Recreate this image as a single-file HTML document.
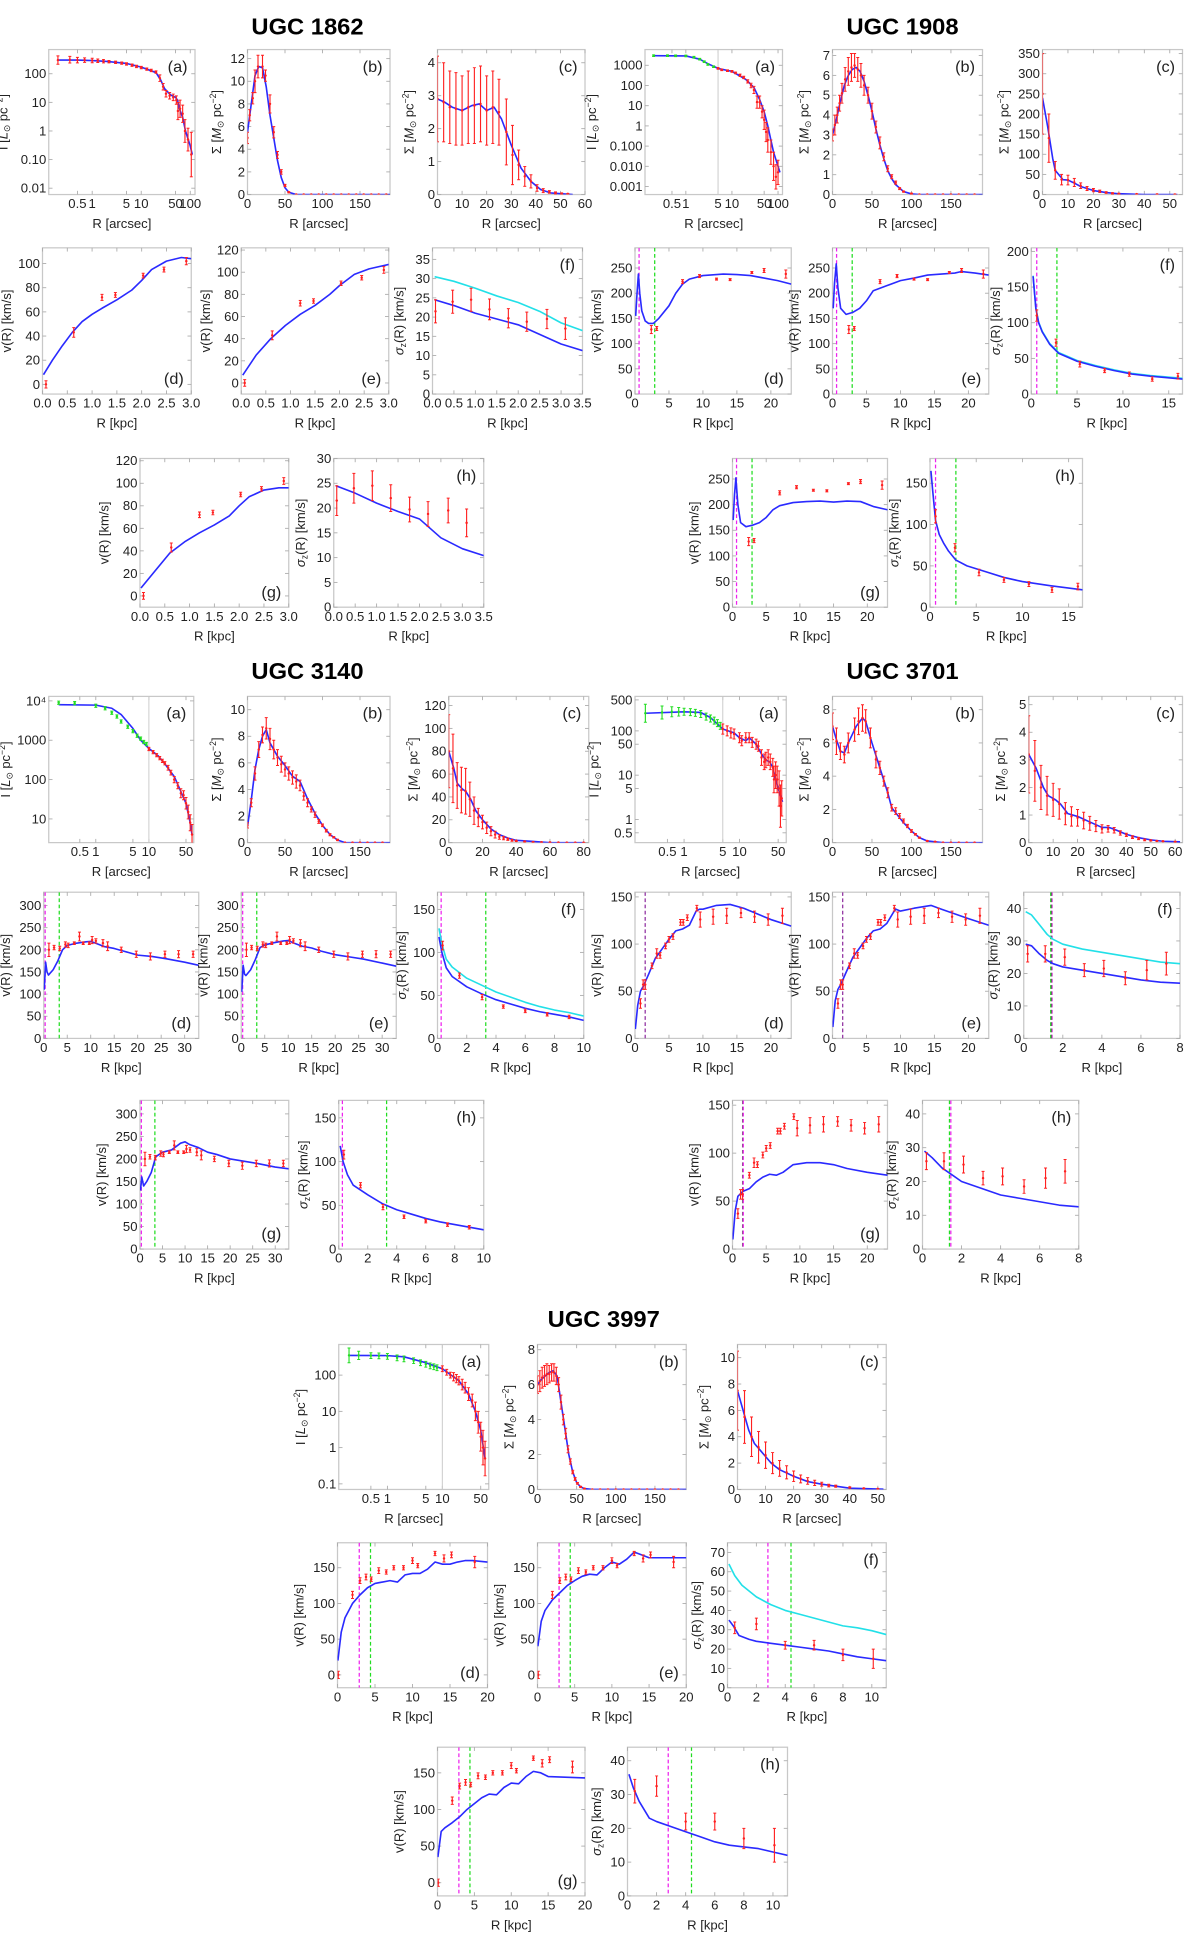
<!DOCTYPE html>
<html><head><meta charset="utf-8"><style>
html,body{margin:0;padding:0;background:#fff;}
svg{display:block;font-family:"Liberation Sans",sans-serif;}
</style></head><body>
<svg id="fig" width="1200" height="1943" viewBox="0 0 960 1568" preserveAspectRatio="none" xmlns="http://www.w3.org/2000/svg">
<text x="246" y="28" font-size="19" font-weight="bold" text-anchor="middle">UGC 1862</text>
<text x="722" y="28" font-size="19" font-weight="bold" text-anchor="middle">UGC 1908</text>
<text x="246" y="548" font-size="19" font-weight="bold" text-anchor="middle">UGC 3140</text>
<text x="722" y="548" font-size="19" font-weight="bold" text-anchor="middle">UGC 3701</text>
<text x="483" y="1071" font-size="19" font-weight="bold" text-anchor="middle">UGC 3997</text>
</svg>
<script>
// ===== DATA =====
// UGC 1862
const c1862a=[[0.2,300],[0.5,300],[1,290],[2,270],[5,230],[10,170],[20,110],[25,60],[30,30],[40,18],[50,15],[55,12],[60,6],[70,3],[80,1],[100,0.3],[110,0.15]];
const p1862a=[[0.2,300,1.4],[0.35,310,1.3],[0.5,300,1.25],[0.7,300,1.2],[1,290,1.2],[1.3,285,1.15],[1.7,275,1.15],[2.2,265,1.1],[3,250,1.1],[4,235,1.1],[5,220,1.1],[6.5,200,1.1],[8,180,1.1],[10,165,1.1],[13,145,1.1],[16,130,1.1],[20,115,1.1],[24,70,1.3],[28,35,1.3],[32,20,1.3],[38,17,1.3],[45,15,1.3],[52,12,1.4],[56,5,2],[62,6,2],[70,4,2],[78,1,2.5],[90,0.5,2.5],[105,0.15,6]];
const c1862b=[[0,5.5],[5,8],[10,10.5],[15,11.3],[20,11.2],[25,9.5],[30,7],[35,5],[40,3],[45,1.5],[50,0.6],[55,0.2],[65,0],[190,0]];
const p1862b=[[0,5,0.5],[3,7,0.5],[7,8.5,0.5],[10,10,1],[14,11.3,1],[20,11.3,1],[24,10.5,0.5],[30,8,0.8],[35,5.5,0.5],[40,3.5,0.3],[45,2,0.2],[50,0.8,0.1],[55,0.2,0.05],[65,0,0],[75,0,0],[85,0,0],[95,0,0],[105,0,0],[115,0,0],[125,0,0],[135,0,0],[145,0,0],[155,0,0],[165,0,0],[175,0,0],[185,0,0]];
const c1862c=[[0,2.9],[3,2.8],[6,2.65],[10,2.55],[14,2.7],[17,2.75],[20,2.55],[23,2.65],[26,2.3],[30,1.5],[34,0.8],[38,0.4],[42,0.15],[46,0.05],[55,0]];
const p1862c=[[0,2.9,1.3],[2.5,2.8,1.2],[5,2.65,1.1],[7.5,2.6,1.1],[10,2.55,1.05],[12.5,2.65,1.1],[15,2.7,1.15],[17.5,2.75,1.15],[20,2.55,1.05],[22.5,2.65,1.1],[25,2.5,1.0],[28,1.9,1.0],[30.5,1.2,0.9],[33,0.9,0.45],[35.5,0.55,0.3],[38,0.4,0.2],[40.5,0.2,0.1],[43,0.12,0.06],[45.5,0.08,0.04],[48,0.05,0.03],[50.5,0.03,0.02],[53,0.02,0.01]];
const c1862d=[[0.02,8],[0.2,20],[0.4,32],[0.6,43],[0.8,52],[1.0,58],[1.2,63],[1.5,70],[1.8,78],[2.0,86],[2.2,95],[2.5,102],[2.8,105],[3.0,104]];
const p1862v=[[0.07,0,3],[0.63,43,4],[1.2,72,2.5],[1.47,74,2],[2.03,90,2],[2.45,95,2],[2.9,102,3]];
const c1862e=[[0.03,7],[0.3,25],[0.6,40],[0.9,52],[1.2,62],[1.5,70],[1.8,80],[2.0,88],[2.3,98],[2.6,103],[3.0,107]];
const c1862f=[[0.05,24.5],[0.5,23],[1,21],[1.5,19.5],[2,18],[2.5,15.5],[3,13],[3.5,11.3]];
const k1862f=[[0.05,30.5],[0.5,29.3],[1,27.5],[1.5,25.5],[2,23.8],[2.5,21.5],[3,18.5],[3.5,16.5]];
const p1862s=[[0.07,21.5,3],[0.47,24,3],[0.9,24.5,3],[1.33,22,2.7],[1.77,19.7,2.5],[2.2,18.8,2.5],[2.67,19.5,2.5],[3.1,17,2.8]];
const c1862g=[[0.02,7],[0.3,22],[0.6,38],[0.9,48],[1.2,56],[1.5,63],[1.8,71],[2.0,80],[2.2,88],[2.5,94],[2.8,96],[3.0,96]];
const c1862h=[[0.05,24.5],[0.5,23],[1,21],[1.5,19.3],[2,17.8],[2.5,14],[3,11.8],[3.5,10.4]];
// UGC 1908
const c1908a=[[0.2,3000],[1,2900],[2,2000],[3,1200],[5,700],[10,500],[20,200],[30,80],[40,20],[50,5],[60,1],[70,0.2],[80,0.05],[100,0.01],[110,0.005]];
const g1908a=[[0.2,3000,1.1],[0.4,3000,1.1],[0.6,2950,1.1],[1,2900,1.1],[1.5,2500,1.1],[2,2000,1.1],[2.5,1500,1.1],[3,1100,1.1],[4,850,1.1]];
const p1908a=[[5,700,1.1],[6,600,1.1],[8,540,1.1],[10,500,1.1],[12,420,1.1],[15,320,1.15],[18,250,1.15],[22,160,1.2],[26,100,1.3],[30,60,1.5],[35,15,2],[40,15,2],[45,5,2],[50,2,3],[55,0.5,3],[60,0.2,4],[70,0.05,4],[80,0.01,5],[90,0.003,4],[100,0.005,4]];
const c1908b=[[0,3],[5,3.8],[10,4.7],[15,5.5],[20,6],[25,6.3],[30,6.4],[35,6.2],[40,5.7],[45,5],[50,4.2],[55,3.3],[60,2.5],[65,1.8],[70,1.2],[75,0.8],[80,0.5],[90,0.15],[100,0.03],[110,0],[190,0]];
const p1908b=[[0,3,0.3],[3,3.5,0.5],[6,4,0.4],[9,4.6,0.4],[12,5.1,0.5],[16,5.8,0.6],[20,6.2,0.7],[24,6.4,0.7],[28,6.5,0.6],[32,6.3,0.6],[36,6,0.6],[40,5.5,0.5],[45,5,0.4],[50,4.2,0.4],[55,3.4,0.3],[60,2.6,0.3],[65,1.9,0.2],[70,1.3,0.15],[75,0.9,0.1],[80,0.6,0.08],[85,0.3,0.05],[90,0.15,0.03],[100,0.05,0.02],[110,0,0],[120,0,0],[130,0,0],[140,0,0],[150,0,0],[160,0,0],[170,0,0],[180,0,0]];
const c1908c=[[0,240],[2,170],[4,90],[5,60],[7,45],[8,37],[10,36],[12,30],[15,20],[20,10],[25,5],[30,2],[40,0],[53,0]];
const p1908c=[[0,250,100],[2.5,140,60],[5,60,22],[7.5,37,13],[10,36,12],[12.5,30,10],[15,22,7],[17.5,15,5],[20,11,4],[22.5,8,3],[25,5,2],[27.5,3,1.5],[30,2,1],[37,1,0.5],[45,0.5,0.3],[52,0.3,0.2]];
const c1908d=[[0.1,155],[0.3,200],[0.5,238],[0.7,200],[1,165],[1.5,145],[2,140],[2.7,140],[3.5,150],[5,175],[6,200],[7,218],[8,228],[10,235],[13,238],[15,237],[17,235],[19,230],[21,225],[23,218]];
const p1908v=[[2.4,128,8],[3.2,130,4],[7,223,4],[9.5,234,3],[12,228,2],[14,227,2],[17.2,241,2],[19,245,4],[22.2,238,8]];
const c1908e=[[0.1,170],[0.3,220],[0.55,258],[0.8,210],[1.2,170],[2,158],[3,162],[4,170],[5,185],[6,205],[8,215],[10,225],[12,230],[14,236],[16,238],[18,240],[19,243],[21,240],[23,236]];
const c1908f=[[0.2,165],[0.5,120],[0.8,100],[1.2,87],[2,70],[3,57],[5,46],[7,39],[9,33],[11,28],[13,25],[16.5,21]];
const k1908f=[[0.2,166],[0.5,121],[0.8,101],[1.2,88],[2,71],[3,58],[5,47],[7,40],[9,34],[11,29],[13,26],[16.5,22]];
const p1908s=[[0.6,110,8],[2.7,72,5],[5.3,42,4],[8,33,3],[10.7,28,3],[13.2,21,3],[16,25,4]];
const c1908g=[[0.1,170],[0.3,220],[0.5,252],[0.8,200],[1.2,165],[2,157],[3,160],[4,165],[5,175],[6,190],[7,198],[9,204],[11,206],[13,207],[15,205],[17,207],[19,206],[21,196],[23,190]];
const c1908h=[[0.1,165],[0.3,140],[0.6,105],[1,88],[1.5,77],[2,68],[2.8,57],[4,50],[6,43],[8,36],[10,31],[13,26],[16.5,21]];
// UGC 3140
const c3140a=[[0.2,8000],[1,7800],[2,6500],[3,4500],[5,2000],[7,1000],[10,620],[15,400],[20,250],[30,120],[40,50],[50,25],[60,8],[65,4]];
const g3140a=[[0.2,9000,1.1],[0.4,8800,1.1],[1,7500,1.1],[1.5,6500,1.1],[2,5000,1.1],[2.5,4000,1.1],[3,3000,1.1],[4,2200,1.1],[5,1700,1.1],[6,1300,1.1],[7,1100,1.1],[8,900,1.1],[9,800,1.1]];
const p3140a=[[10,600,1.1],[12,500,1.1],[14,420,1.1],[16,350,1.1],[18,300,1.1],[20,260,1.1],[23,200,1.15],[26,150,1.15],[30,100,1.2],[35,70,1.2],[40,45,1.3],[45,40,1.3],[50,25,1.4],[55,15,1.5],[60,8,1.6],[65,4,1.8]];
const c3140b=[[0,1.2],[5,3.2],[10,5.5],[15,7],[20,8],[25,8.5],[30,7.5],[40,6.5],[50,5.8],[60,5],[70,4.6],[80,3.3],[90,2.2],[100,1.3],[110,0.6],[120,0.2],[130,0],[190,0]];
const p3140b=[[0,1.3,0.2],[5,3,0.3],[10,5.2,0.5],[15,7,0.6],[20,8.1,0.6],[25,8.6,0.8],[30,7.8,0.8],[35,7,0.7],[40,6.4,0.6],[45,5.9,0.6],[50,5.5,0.5],[55,5.2,0.5],[60,4.9,0.5],[65,4.6,0.5],[70,4.3,0.4],[75,3.5,0.3],[80,3,0.3],[85,2.5,0.2],[90,2.1,0.2],[95,1.6,0.15],[100,1.3,0.1],[105,0.9,0.1],[110,0.6,0.08],[115,0.4,0.05],[120,0.2,0.05],[130,0,0],[140,0,0],[150,0,0],[160,0,0],[170,0,0],[180,0,0]];
const c3140c=[[0,80],[3,65],[5,52],[8,47],[10,45],[13,38],[16,28],[20,20],[25,12],[30,7],[35,4],[40,2],[50,1],[60,0],[80,0]];
const p3140c=[[0,80,32],[2.5,65,30],[5,50,20],[7.5,46,20],[10,45,20],[12.5,38,15],[15,28,12],[17.5,22,8],[20,18,6],[22.5,13,5],[25,10,4],[27.5,7,3],[30,5,2],[32.5,4,1.5],[35,3,1],[37.5,2,0.8],[40,1.5,0.5],[45,1,0.3],[50,0.5,0.2],[55,0.3,0.1],[60,0.2,0],[65,0.1,0],[70,0,0],[75,0,0],[80,0,0]];
const c3140d=[[0.1,110],[0.4,172],[0.7,150],[1,143],[2,155],[3,175],[4,200],[5,210],[7,215],[9,218],[10,219],[11,215],[13,207],[15,203],[17,197],[20,188],[23,185],[26,180],[30,172],[33,165]];
const p3140v=[[1.1,200,15],[2.2,205,5],[3.4,203,5],[4.6,212,6],[5.2,210,5],[6.5,215,3],[7.6,230,10],[8.4,215,3],[9.7,215,3],[10.3,222,8],[11.1,220,5],[12.6,215,8],[13.6,208,10],[16.5,200,6],[19.7,190,7],[22.7,185,8],[25.8,190,7],[28.7,190,8],[31.8,190,7]];
const c3140e=[[0.1,105],[0.4,165],[0.7,145],[1,142],[2,155],[3,178],[4,205],[5,211],[7,216],[9,220],[10,221],[11,216],[13,208],[15,204],[17,197],[20,189],[23,184],[26,179],[30,170],[33,163]];
const c3140f=[[0.1,118],[0.3,100],[0.6,82],[1,72],[2,60],[3,52],[4,45],[5,40],[6,35],[7,31],[8,28],[9,25],[10,21]];
const k3140f=[[0.1,128],[0.3,110],[0.6,92],[1,83],[2,70],[3,62],[4,54],[5,48],[6,42],[7,37],[8,33],[9,30],[10,26]];
const p3140s=[[0.35,108,5],[1.5,73,3],[3.05,48,3],[4.5,37,2],[6,32,2],[7.5,28,2],[9,25,2]];
const c3140g=[[0.1,130],[0.4,160],[0.8,140],[1.5,150],[2.5,170],[3.5,205],[5,215],[7,220],[9,235],[10,238],[11,232],[13,225],[15,215],[17,210],[20,200],[23,195],[26,190],[30,182],[33,178]];
const c3140h=[[0.1,118],[0.3,100],[0.6,85],[1,73],[2,62],[3,52],[4,45],[5,40],[6,35],[7,31],[8,28],[9,25],[10,22]];
// UGC 3701
const c3701a=[[0.2,250],[1,270],[2,260],[3,200],[5,110],[8,90],[10,70],[13,60],[15,70],[20,50],[25,30],[30,22],[35,20],[40,15],[45,8],[50,5],[60,2.5]];
const g3701a=[[0.2,250,1.6],[0.4,260,1.4],[0.6,270,1.3],[0.8,270,1.25],[1,270,1.2],[1.3,265,1.2],[1.6,255,1.2],[2,240,1.2],[2.5,210,1.2],[3,190,1.2],[3.5,170,1.2],[4,150,1.2],[4.5,130,1.2]];
const p3701a=[[5,110,1.3],[6,100,1.3],[7,90,1.3],[8,85,1.3],[10,70,1.3],[11,60,1.3],[13,70,1.3],[15,70,1.3],[17,55,1.3],[20,50,1.3],[22,45,1.3],[25,25,1.5],[28,20,1.5],[30,22,1.5],[33,25,1.5],[36,20,1.5],[40,15,1.6],[42,8,2],[45,10,2],[48,8,2],[52,5,2.5],[55,2,3],[58,3,2.5]];
const c3701b=[[0,7],[5,6.2],[10,5.5],[15,5.4],[20,6],[30,7],[38,7.5],[42,7.3],[50,6],[60,4.5],[70,3],[75,2.1],[80,1.8],[90,1.2],[100,0.7],[110,0.3],[120,0.1],[140,0],[190,0]];
const p3701b=[[0,7,0.8],[5,6.1,0.8],[10,5.5,0.5],[15,5.3,0.5],[20,6,0.6],[28,6.8,0.7],[33,7.3,0.8],[38,7.5,0.8],[42,7.3,0.7],[48,6.3,0.6],[55,5,0.5],[60,4.5,0.4],[65,3.7,0.3],[70,3,0.3],[75,2.1,0.2],[80,1.9,0.2],[85,1.6,0.15],[90,1.3,0.12],[95,1,0.1],[100,0.7,0.08],[105,0.5,0.05],[110,0.3,0.04],[120,0.1,0.02],[130,0.05,0],[140,0,0],[150,0,0],[160,0,0],[170,0,0],[180,0,0]];
const c3701c=[[0,3.2],[3,2.7],[6,2],[8,1.7],[11,1.55],[13,1.4],[16,1.05],[20,0.95],[25,0.75],[30,0.55],[33,0.55],[36,0.45],[40,0.3],[45,0.18],[50,0.1],[55,0.05],[62,0.03]];
const p3701c=[[0,3.2,1.4],[2.5,2.6,1.1],[5,2,0.8],[7.5,1.7,0.7],[10,1.55,0.6],[12.5,1.4,0.55],[15,1.05,0.4],[17.5,0.95,0.35],[20,0.9,0.3],[22.5,0.8,0.3],[25,0.7,0.25],[27.5,0.6,0.2],[30,0.5,0.15],[32.5,0.5,0.12],[35,0.45,0.1],[37.5,0.35,0.08],[40,0.28,0.06],[42.5,0.2,0.05],[45,0.15,0.04],[47.5,0.1,0.03],[50,0.08,0.02],[52.5,0.06,0.01],[55,0.05,0],[60,0.03,0]];
const c3701d=[[0.05,10],[0.4,35],[0.8,50],[1.2,55],[2,68],[3,85],[4,95],[5,105],[6,114],[7,116],[8,120],[9,135],[9.5,137],[10,137],[12,141],[14,142],[16,138],[18,132],[20,126],[23,119]];
const p3701v=[[0.8,37,5],[1.2,57,5],[1.5,57,5],[2.5,77,3],[3.2,90,5],[3.7,88,3],[4.5,98,3],[5,105,3],[5.6,108,3],[6.7,123,3],[7.1,123,3],[7.7,128,3],[9.1,138,3],[9.6,126,8],[11.5,129,8],[13.5,130,8],[15.6,133,5],[17.6,129,6],[19.6,126,6],[21.7,130,8]];
const c3701e=[[0.05,12],[0.4,40],[0.8,52],[1.2,57],[2,70],[3,86],[4,96],[5,106],[6,114],[7,116],[8,122],[9,134],[9.3,137],[10,135],[12,138],[14.5,141],[16,137],[18,132],[20,127],[23,120]];
const c3701f=[[0.1,29],[0.4,28.5],[0.8,26],[1.2,24],[1.5,23],[2,22],[3,21],[4,20],[5,19],[6,18],[7,17.3],[8,17]];
const k3701f=[[0.1,39],[0.4,38],[0.8,35],[1.2,32],[1.5,30.5],[2,29],[3,27.5],[4,26.5],[5,25.5],[6,24.5],[7,23.5],[8,23]];
const p3701s=[[0.2,26,2.5],[1.1,26,2.5],[2.1,25,2.5],[3.1,21,2],[4.1,21.5,2.5],[5.2,18.5,2],[6.3,21,3],[7.3,23,3.5]];
const c3701g=[[0.05,10],[0.4,40],[0.8,55],[1.5,60],[2.5,63],[3.5,70],[4.5,75],[5.5,78],[6.5,77],[7.5,80],[9,88],[11,90],[13,90],[15,88],[17,84],[20,80],[23,77]];
const c3701h=[[0.1,29],[0.5,27],[1,24],[1.5,22],[2,20],[3,18],[4,16],[5,15],[6,14],[7,13],[8,12.5]];
// UGC 3997
const c3997a=[[0.2,350],[1,345],[2,320],[5,220],[10,150],[20,70],[30,30],[40,10],[50,3],[60,0.5]];
const g3997a=[[0.2,350,1.6],[0.3,350,1.3],[0.5,345,1.2],[0.7,340,1.2],[1,330,1.2],[1.5,300,1.2],[2,280,1.2],[3,250,1.2],[4,220,1.2],[5,200,1.2],[6,180,1.2],[7,170,1.2],[8,160,1.2]];
const p3997a=[[10,150,1.2],[12,120,1.2],[14,100,1.2],[16,90,1.3],[18,80,1.3],[20,70,1.3],[23,55,1.4],[26,45,1.4],[30,30,1.5],[35,20,1.5],[40,10,1.8],[45,5,2],[50,2,2.5],[55,1,3],[60,0.5,3]];
const c3997b=[[0,6],[5,6.3],[10,6.5],[15,6.7],[20,6.8],[25,6.5],[30,5],[35,3.5],[40,2],[45,1],[50,0.4],[55,0.15],[60,0.05],[70,0],[190,0]];
const p3997b=[[0,6,0.5],[3,6.2,0.6],[6,6.4,0.6],[9,6.5,0.6],[12,6.6,0.6],[15,6.6,0.5],[18,6.7,0.5],[21,6.7,0.5],[24,6.5,0.5],[27,6,0.4],[30,5,0.4],[33,4,0.3],[36,3.2,0.3],[39,2.3,0.2],[42,1.6,0.15],[45,1,0.1],[48,0.6,0.08],[51,0.35,0.05],[55,0.15,0.03],[60,0.05,0.01],[70,0,0],[80,0,0],[90,0,0],[100,0,0],[110,0,0],[120,0,0],[130,0,0],[140,0,0],[150,0,0],[160,0,0],[170,0,0],[180,0,0]];
const c3997c=[[0,7.5],[2,6],[4,4.5],[6,3.5],[8,3],[10,2.5],[12,2],[15,1.5],[20,1],[25,0.6],[30,0.4],[40,0.1],[52,0.02]];
const p3997c=[[0,7.5,3],[2.5,5.5,2],[5,4,1.5],[7.5,3.2,1.2],[10,2.6,1],[12.5,2,0.8],[15,1.6,0.6],[17.5,1.3,0.5],[20,1,0.4],[22.5,0.8,0.3],[25,0.65,0.25],[27.5,0.5,0.2],[30,0.4,0.15],[32.5,0.3,0.1],[35,0.25,0.08],[40,0.15,0.05],[45,0.08,0],[50,0.05,0]];
const c3997d=[[0.05,20],[0.5,60],[1,80],[2,100],[3,112],[4,122],[5,128],[6,130],[7,132],[8,130],[9,140],[10,142],[11,142],[12,148],[13,158],[14,155],[15,155],[16,158],[17,160],[18,160],[20,158]];
const p3997v=[[0.1,0,5],[2,112,5],[3,132,4],[3.8,137,4],[4.5,134,3],[5.5,146,4],[6.5,144,3],[7.5,150,3],[8.8,150,3],[10,160,4],[10.7,153,3],[13,170,3],[14.2,163,5],[15.2,168,4],[18.3,158,8]];
const c3997e=[[0.05,40],[0.5,75],[1,90],[2,105],[3,115],[4,125],[5,132],[6,138],[7,141],[8,140],[9,150],[10,158],[11,155],[12,162],[13,172],[14,168],[15,164],[16,164],[20,164]];
const c3997f=[[0.1,35],[0.4,32],[0.8,27],[1.5,25],[2,24],[3,23],[4,22],[5,21],[6,20],[7,19],[8,17.5],[9,16],[10,15],[11,14]];
const k3997f=[[0.1,64],[0.5,58],[1,53],[2,47],[3,43],[4,40],[5,38],[6,36],[7,34],[8,32],[9,31],[10,29.5],[11,27.5]];
const p3997s=[[0.5,31,3],[2,33,3],[4,22,2],[6,22,2.5],[8,17,3],[10.1,15,5]];
const c3997g=[[0.05,35],[0.5,70],[1,75],[2,82],[3,90],[4,100],[5,108],[6,116],[7,121],[8,120],[9,130],[10,136],[11,135],[12,145],[13,152],[14,150],[15,145],[20,143]];
const c3997h=[[0.1,36],[0.4,32],[0.8,28],[1.5,23],[2,22],[3,20.5],[4,19],[5,17.5],[6,16],[7,15],[8,14.5],[9,14],[10,13],[11,12]];
const p3997hs=[[0.5,31,3.5],[2,32.5,3],[4,22,2.5],[6,22,2.5],[8,17,3],[10.1,15,5]];

// ===== DRAWING =====
const NS='http://www.w3.org/2000/svg';
const fig=document.getElementById('fig');
const BLUE='#2a2aff',CYAN='#22e0e8',RED='#ff2020',GREEN='#22dd22',MAG='#ee22ee';
function mk(tag,attrs,parent){const e=document.createElementNS(NS,tag);for(const k in attrs)e.setAttribute(k,attrs[k]);parent.appendChild(e);return e;}
function range(a,b,s){const r=[];for(let v=a;v<=b+1e-9;v+=s)r.push(+v.toFixed(6));return r;}
function fmt(v,d){return d===undefined?String(v):v.toFixed(d);}

function panel(cfg){
  const [x0,y0,x1,y1]=cfg.box;
  const g=mk('g',{},fig);
  
  
  const lx=v=>Math.log10(v);
  const sx=v=>{const [a,b]=cfg.xr;return x0+(cfg.xlog?(lx(v)-lx(a))/(lx(b)-lx(a)):(v-a)/(b-a))*(x1-x0);};
  const sy=v=>{const [a,b]=cfg.yr;return y1-(cfg.ylog?(lx(v)-lx(a))/(lx(b)-lx(a)):(v-a)/(b-a))*(y1-y0);};
  const fr=mk('rect',{x:x0,y:y0,width:x1-x0,height:y1-y0,fill:'none',stroke:'#c8c8c8','stroke-width':1},g);
  
  
  cfg.xt.forEach((v,i)=>{const X=sx(v);
    mk('line',{x1:X,x2:X,y1:y1,y2:y1-3,stroke:'#aaa','stroke-width':0.7},g);
    mk('line',{x1:X,x2:X,y1:y0,y2:y0+3,stroke:'#aaa','stroke-width':0.7},g);
    const t=mk('text',{x:X,y:y1+11,'font-size':10.5,'text-anchor':'middle',fill:'#222'},g);
    t.textContent=cfg.xtl?cfg.xtl[i]:fmt(v,cfg.xd);
    
    
  });
  cfg.yt.forEach((v,i)=>{const Y=sy(v);
    mk('line',{x1:x0,x2:x0+3,y1:Y,y2:Y,stroke:'#aaa','stroke-width':0.7},g);
    mk('line',{x1:x1,x2:x1-3,y1:Y,y2:Y,stroke:'#aaa','stroke-width':0.7},g);
    const t=mk('text',{x:x0-2,y:Y+3.6,'font-size':10.5,'text-anchor':'end',fill:'#222'},g);
    t.textContent=cfg.ytl?cfg.ytl[i]:fmt(v,cfg.yd);
    
    
  });
  const xl=mk('text',{x:(x0+x1)/2,y:y1+27,'font-size':10.5,'text-anchor':'middle',fill:'#222'},g);
  xl.textContent=cfg.xlab;
  
  
  const yx=x0-(cfg.yoff||24)-3,yy=(y0+y1)/2;
  const yl=mk('text',{x:yx,y:yy,'font-size':10.5,'text-anchor':'middle',fill:'#222',transform:`rotate(-90 ${yx} ${yy})`},g);
  
  
  if(cfg.ylab==='I'){yl.innerHTML='I [<tspan font-style="italic">L</tspan><tspan font-size="7" dy="2">⊙</tspan><tspan dy="-2"> pc</tspan><tspan font-size="7" dy="-4">−2</tspan><tspan dy="4">]</tspan>';}
  else if(cfg.ylab==='S'){yl.innerHTML='Σ [<tspan font-style="italic">M</tspan><tspan font-size="7" dy="2">⊙</tspan><tspan dy="-2"> pc</tspan><tspan font-size="7" dy="-4">−2</tspan><tspan dy="4">]</tspan>';}
  else if(cfg.ylab==='v'){yl.textContent='v(R) [km/s]';}
  else {yl.innerHTML='<tspan font-style="italic">σ</tspan><tspan font-size="7" dy="2">z</tspan><tspan dy="-2">(R) [km/s]</tspan>';}
  const cid='clip'+cfg.name;
  const cp=mk('clipPath',{id:cid},g);mk('rect',{x:x0,y:y0,width:x1-x0,height:y1-y0},cp);
  const inner=mk('g',{'clip-path':`url(#${cid})`},g);
  if(cfg.grayv!==undefined){const X=sx(cfg.grayv);mk('line',{x1:X,x2:X,y1:y0,y2:y1,stroke:'#ccc','stroke-width':0.8},inner);}
  (cfg.vl||[]).forEach(v=>{const X=sx(v[0]);const l=mk('line',{x1:X,x2:X,y1:y0,y2:y1,stroke:v[1],'stroke-width':1,'stroke-dasharray':'3,2'},inner);
    
    });
  const drawPts=(arr,col,nm)=>arr.forEach(p=>{const X=sx(p[0]);
    let ya,yb;
    if(cfg.ylog){ya=sy(p[1]/p[2]);yb=sy(p[1]*p[2]);}else{ya=sy(p[1]-p[2]);yb=sy(p[1]+p[2]);}
    const el=mk('g',{},inner);
    
    
    mk('line',{x1:X,x2:X,y1:ya,y2:yb,stroke:col,'stroke-width':0.9},el);
    mk('line',{x1:X-1.2,x2:X+1.2,y1:ya,y2:ya,stroke:col,'stroke-width':0.8},el);
    mk('line',{x1:X-1.2,x2:X+1.2,y1:yb,y2:yb,stroke:col,'stroke-width':0.8},el);
    mk('circle',{cx:X,cy:sy(p[1]),r:1,fill:col},el);
  });
  (cfg.curves||[]).forEach(c=>{
    const d=c[0].map((p,i)=>(i?'L':'M')+sx(p[0]).toFixed(2)+','+sy(p[1]).toFixed(2)).join('');
    const pa=mk('path',{d:d,fill:'none',stroke:c[1],'stroke-width':1.3,'stroke-linejoin':'round'},inner);
    
    
  });
  if(cfg.gpts)drawPts(cfg.gpts,GREEN,'data-point-green');
  if(cfg.pts)drawPts(cfg.pts,RED,'data-point');
  const tr=cfg.tag[1]==='d'||cfg.tag[1]==='e'||cfg.tag[1]==='g';
  const tg=mk('text',{x:x1-6,y:tr?y1-8:y0+18,'font-size':13,'text-anchor':'end',fill:'#222'},g);
  tg.textContent=cfg.tag;
  
  
}

const KPC='R [kpc]',ARC='R [arcsec]';
const r1=[40,157],r2=[200,318],r3=[370,490],r4=[562,680],r5=[720,838],r6=[888,1008],r7=[1085,1202],r8=[1245,1362],r9=[1410,1530];
function B(x0,x1,r){return [x0,r[0],x1,r[1]];}
const vx=[0,0.5,1,1.5,2,2.5,3],sx35=[0,0.5,1,1.5,2,2.5,3,3.5];
// UGC 1862
panel({name:'ugc1862-a',box:B(39,156,r1),xlog:1,ylog:1,xr:[0.13,125],yr:[0.006,700],xt:[0.5,1,5,10,50,100],xtl:['0.5','1','5','10','50','100'],yt:[0.01,0.1,1,10,100],ytl:['0.01','0.10','1','10','100'],ylab:'I',xlab:ARC,tag:'(a)',curves:[[c1862a,BLUE]],pts:p1862a,yoff:30});
panel({name:'ugc1862-b',box:B(198,312,r1),xr:[0,190],yr:[0,12.8],xt:[0,50,100,150],yt:[0,2,4,6,8,10,12],ylab:'S',xlab:ARC,tag:'(b)',curves:[[c1862b,BLUE]],pts:p1862b,yoff:18});
panel({name:'ugc1862-c',box:B(350,468,r1),xr:[0,60],yr:[0,4.4],xt:range(0,60,10),yt:[0,1,2,3,4],ylab:'S',xlab:ARC,tag:'(c)',curves:[[c1862c,BLUE]],pts:p1862c,yoff:16});
panel({name:'ugc1862-d',box:B(34,153,r2),xr:[0,3],yr:[-8,113],xt:vx,xd:1,yt:range(0,100,20),ylab:'v',xlab:KPC,tag:'(d)',curves:[[c1862d,BLUE]],pts:p1862v,yoff:22});
panel({name:'ugc1862-e',box:B(193,311,r2),xr:[0,3],yr:[-10,122],xt:vx,xd:1,yt:range(0,120,20),ylab:'v',xlab:KPC,tag:'(e)',curves:[[c1862e,BLUE]],pts:p1862v,yoff:22});
panel({name:'ugc1862-f',box:B(346,466,r2),xr:[0,3.5],yr:[0,38],xt:sx35,xd:1,yt:range(0,35,5),ylab:'s',xlab:KPC,tag:'(f)',curves:[[k1862f,CYAN],[c1862f,BLUE]],pts:p1862s,yoff:20});
panel({name:'ugc1862-g',box:B(112,231,r3),xr:[0,3],yr:[-10,122],xt:vx,xd:1,yt:range(0,120,20),ylab:'v',xlab:KPC,tag:'(g)',curves:[[c1862g,BLUE]],pts:p1862v,yoff:22});
panel({name:'ugc1862-h',box:B(267,387,r3),xr:[0,3.5],yr:[0,30],xt:sx35,xd:1,yt:range(0,30,5),ylab:'s',xlab:KPC,tag:'(h)',curves:[[c1862h,BLUE]],pts:p1862s,yoff:20});
// UGC 1908
panel({name:'ugc1908-a',box:B(516,626,r1),xlog:1,ylog:1,xr:[0.13,125],yr:[0.0004,6000],xt:[0.5,1,5,10,50,100],xtl:['0.5','1','5','10','50','100'],yt:[0.001,0.01,0.1,1,10,100,1000],ytl:['0.001','0.010','0.100','1','10','100','1000'],ylab:'I',xlab:ARC,tag:'(a)',grayv:5,curves:[[c1908a,BLUE]],gpts:g1908a,pts:p1908a,yoff:36});
panel({name:'ugc1908-b',box:B(666,786,r1),xr:[0,190],yr:[0,7.3],xt:[0,50,100,150],yt:range(0,7,1),ylab:'S',xlab:ARC,tag:'(b)',curves:[[c1908b,BLUE]],pts:p1908b,yoff:16});
panel({name:'ugc1908-c',box:B(834,946,r1),xr:[0,55],yr:[0,360],xt:range(0,50,10),yt:range(0,350,50),ylab:'S',xlab:ARC,tag:'(c)',curves:[[c1908c,BLUE]],pts:p1908c,yoff:24});
panel({name:'ugc1908-d',box:B(508,633,r2),xr:[0,23],yr:[0,290],xt:[0,5,10,15,20],yt:range(0,250,50),ylab:'v',xlab:KPC,tag:'(d)',vl:[[0.6,MAG],[2.9,GREEN]],curves:[[c1908d,BLUE]],pts:p1908v,yoff:24});
panel({name:'ugc1908-e',box:B(666,791,r2),xr:[0,23],yr:[0,290],xt:[0,5,10,15,20],yt:range(0,250,50),ylab:'v',xlab:KPC,tag:'(e)',vl:[[0.6,MAG],[2.9,GREEN]],curves:[[c1908e,BLUE]],pts:p1908v,yoff:24});
panel({name:'ugc1908-f',box:B(825,946,r2),xr:[0,16.5],yr:[0,205],xt:[0,5,10,15],yt:range(0,200,50),ylab:'s',xlab:KPC,tag:'(f)',vl:[[0.6,MAG],[2.8,GREEN]],curves:[[k1908f,CYAN],[c1908f,BLUE]],pts:p1908s,yoff:22});
panel({name:'ugc1908-g',box:B(586,710,r3),xr:[0,23],yr:[0,290],xt:[0,5,10,15,20],yt:range(0,250,50),ylab:'v',xlab:KPC,tag:'(g)',vl:[[0.6,MAG],[2.9,GREEN]],curves:[[c1908g,BLUE]],pts:p1908v,yoff:24});
panel({name:'ugc1908-h',box:B(744,866,r3),xr:[0,16.5],yr:[0,180],xt:[0,5,10,15],yt:[0,50,100,150],ylab:'s',xlab:KPC,tag:'(h)',vl:[[0.6,MAG],[2.8,GREEN]],curves:[[c1908h,BLUE]],pts:p1908s,yoff:22});
// UGC 3140
panel({name:'ugc3140-a',box:B(39,155,r4),xlog:1,ylog:1,xr:[0.13,70],yr:[2.5,13000],xt:[0.5,1,5,10,50],xtl:['0.5','1','5','10','50'],yt:[10,100,1000,10000],ytl:['10','100','1000','10⁴'],ylab:'I',xlab:ARC,tag:'(a)',grayv:10,curves:[[c3140a,BLUE]],gpts:g3140a,pts:p3140a,yoff:28});
panel({name:'ugc3140-b',box:B(198,312,r4),xr:[0,190],yr:[0,11],xt:[0,50,100,150],yt:range(0,10,2),ylab:'S',xlab:ARC,tag:'(b)',curves:[[c3140b,BLUE]],pts:p3140b,yoff:18});
panel({name:'ugc3140-c',box:B(359,471,r4),xr:[0,83],yr:[0,128],xt:range(0,80,20),yt:range(0,120,20),ylab:'S',xlab:ARC,tag:'(c)',curves:[[c3140c,BLUE]],pts:p3140c,yoff:22});
panel({name:'ugc3140-d',box:B(35,159,r5),xr:[0,33],yr:[0,330],xt:range(0,30,5),yt:range(0,300,50),ylab:'v',xlab:KPC,tag:'(d)',vl:[[0.3,MAG],[3.3,GREEN]],curves:[[c3140d,BLUE]],pts:p3140v,yoff:24});
panel({name:'ugc3140-e',box:B(193,317,r5),xr:[0,33],yr:[0,330],xt:range(0,30,5),yt:range(0,300,50),ylab:'v',xlab:KPC,tag:'(e)',vl:[[0.3,MAG],[3.3,GREEN]],curves:[[c3140e,BLUE]],pts:p3140v,yoff:24});
panel({name:'ugc3140-f',box:B(350,467,r5),xr:[0,10],yr:[0,170],xt:range(0,10,2),yt:[0,50,100,150],ylab:'s',xlab:KPC,tag:'(f)',vl:[[0.25,MAG],[3.3,GREEN]],curves:[[k3140f,CYAN],[c3140f,BLUE]],pts:p3140s,yoff:22});
panel({name:'ugc3140-g',box:B(112,231,r6),xr:[0,33],yr:[0,330],xt:range(0,30,5),yt:range(0,300,50),ylab:'v',xlab:KPC,tag:'(g)',vl:[[0.3,MAG],[3.3,GREEN]],curves:[[c3140g,BLUE]],pts:p3140v,yoff:24});
panel({name:'ugc3140-h',box:B(271,387,r6),xr:[0,10],yr:[0,170],xt:range(0,10,2),yt:[0,50,100,150],ylab:'s',xlab:KPC,tag:'(h)',vl:[[0.25,MAG],[3.3,GREEN]],curves:[[c3140h,BLUE]],pts:p3140s,yoff:22});
// UGC 3701
panel({name:'ugc3701-a',box:B(508,629,r4),xlog:1,ylog:1,xr:[0.13,70],yr:[0.3,600],xt:[0.5,1,5,10,50],xtl:['0.5','1','5','10','50'],yt:[0.5,1,5,10,50,100,500],ytl:['0.5','1','5','10','50','100','500'],ylab:'I',xlab:ARC,tag:'(a)',grayv:5,curves:[[c3701a,BLUE]],gpts:g3701a,pts:p3701a,yoff:26});
panel({name:'ugc3701-b',box:B(666,786,r4),xr:[0,190],yr:[0,8.8],xt:[0,50,100,150],yt:range(0,8,2),ylab:'S',xlab:ARC,tag:'(b)',curves:[[c3701b,BLUE]],pts:p3701b,yoff:16});
panel({name:'ugc3701-c',box:B(823,946,r4),xr:[0,63],yr:[0,5.3],xt:range(0,60,10),yt:range(0,5,1),ylab:'S',xlab:ARC,tag:'(c)',curves:[[c3701c,BLUE]],pts:p3701c,yoff:16});
panel({name:'ugc3701-d',box:B(508,633,r5),xr:[0,23],yr:[0,155],xt:[0,5,10,15,20],yt:[0,50,100,150],ylab:'v',xlab:KPC,tag:'(d)',vl:[[1.5,'#9030a0']],curves:[[c3701d,BLUE]],pts:p3701v,yoff:24});
panel({name:'ugc3701-e',box:B(666,791,r5),xr:[0,23],yr:[0,155],xt:[0,5,10,15,20],yt:[0,50,100,150],ylab:'v',xlab:KPC,tag:'(e)',vl:[[1.5,'#9030a0']],curves:[[c3701e,BLUE]],pts:p3701v,yoff:24});
panel({name:'ugc3701-f',box:B(819,944,r5),xr:[0,8],yr:[0,45],xt:range(0,8,2),yt:range(0,40,10),ylab:'s',xlab:KPC,tag:'(f)',vl:[[1.38,GREEN],[1.45,MAG],[1.42,'#666']],curves:[[k3701f,CYAN],[c3701f,BLUE]],pts:p3701s,yoff:18});
panel({name:'ugc3701-g',box:B(586,710,r6),xr:[0,23],yr:[0,155],xt:[0,5,10,15,20],yt:[0,50,100,150],ylab:'v',xlab:KPC,tag:'(g)',vl:[[1.5,'#666'],[1.6,MAG]],curves:[[c3701g,BLUE]],pts:p3701v,yoff:24});
panel({name:'ugc3701-h',box:B(738,863,r6),xr:[0,8],yr:[0,44],xt:range(0,8,2),yt:range(0,40,10),ylab:'s',xlab:KPC,tag:'(h)',vl:[[1.38,GREEN],[1.45,MAG]],curves:[[c3701h,BLUE]],pts:p3701s,yoff:18});
// UGC 3997
panel({name:'ugc3997-a',box:B(271,391,r7),xlog:1,ylog:1,xr:[0.13,70],yr:[0.07,700],xt:[0.5,1,5,10,50],xtl:['0.5','1','5','10','50'],yt:[0.1,1,10,100],ytl:['0.1','1','10','100'],ylab:'I',xlab:ARC,tag:'(a)',grayv:10,curves:[[c3997a,BLUE]],gpts:g3997a,pts:p3997a,yoff:24});
panel({name:'ugc3997-b',box:B(430,549,r7),xr:[0,190],yr:[0,8.3],xt:[0,50,100,150],yt:range(0,8,2),ylab:'S',xlab:ARC,tag:'(b)',curves:[[c3997b,BLUE]],pts:p3997b,yoff:16});
panel({name:'ugc3997-c',box:B(590,709,r7),xr:[0,53],yr:[0,11],xt:range(0,50,10),yt:range(0,10,2),ylab:'S',xlab:ARC,tag:'(c)',curves:[[c3997c,BLUE]],pts:p3997c,yoff:20});
panel({name:'ugc3997-d',box:B(270,390,r8),xr:[0,20],yr:[-18,185],xt:[0,5,10,15,20],yt:[0,50,100,150],ylab:'v',xlab:KPC,tag:'(d)',vl:[[2.9,MAG],[4.4,GREEN]],curves:[[c3997d,BLUE]],pts:p3997v,yoff:24});
panel({name:'ugc3997-e',box:B(430,549,r8),xr:[0,20],yr:[-18,185],xt:[0,5,10,15,20],yt:[0,50,100,150],ylab:'v',xlab:KPC,tag:'(e)',vl:[[2.9,MAG],[4.4,GREEN]],curves:[[c3997e,BLUE]],pts:p3997v,yoff:24});
panel({name:'ugc3997-f',box:B(582,709,r8),xr:[0,11],yr:[0,75],xt:range(0,10,2),yt:range(0,70,10),ylab:'s',xlab:KPC,tag:'(f)',vl:[[2.8,MAG],[4.4,GREEN]],curves:[[k3997f,CYAN],[c3997f,BLUE]],pts:p3997s,yoff:18});
panel({name:'ugc3997-g',box:B(350,468,r9),xr:[0,20],yr:[-18,185],xt:[0,5,10,15,20],yt:[0,50,100,150],ylab:'v',xlab:KPC,tag:'(g)',vl:[[2.9,MAG],[4.4,GREEN]],curves:[[c3997g,BLUE]],pts:p3997v,yoff:24});
panel({name:'ugc3997-h',box:B(502,630,r9),xr:[0,11],yr:[0,44],xt:range(0,10,2),yt:range(0,40,10),ylab:'s',xlab:KPC,tag:'(h)',vl:[[2.8,MAG],[4.4,GREEN]],curves:[[c3997h,BLUE]],pts:p3997hs,yoff:18});
</script>
</body></html>
